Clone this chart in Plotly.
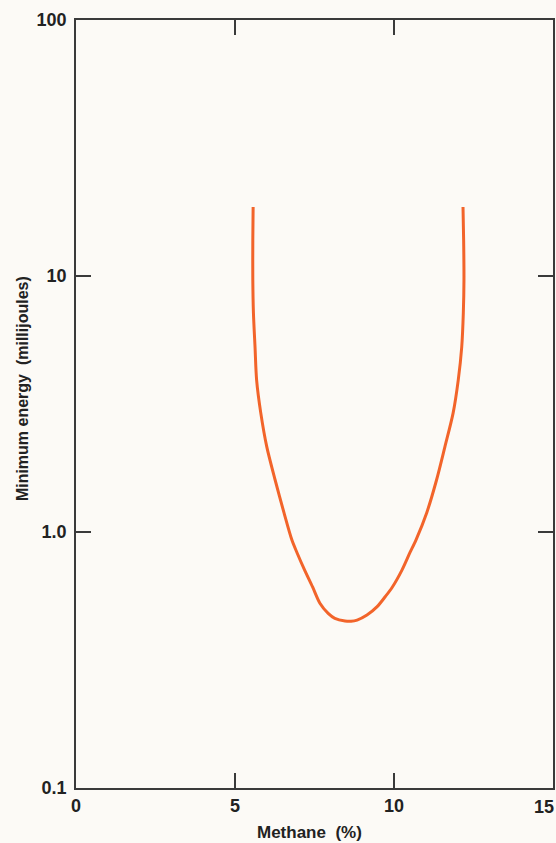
import plotly.graph_objects as go

# Curve: methane concentration (%) vs minimum ignition energy (mJ)
methane_pct = [5.57, 5.56, 5.56, 5.58, 5.63, 5.68, 5.81, 6.00, 6.26, 6.54, 6.79, 6.95,
               7.19, 7.44, 7.67, 7.93, 8.14, 8.46, 8.65, 8.84, 9.15, 9.47, 9.73, 9.95,
               10.25, 10.50, 10.69, 11.03, 11.34, 11.60, 11.86, 12.02, 12.13, 12.18,
               12.20, 12.19, 12.17]
min_energy_mj = [18.6, 13.8, 9.65, 7.17, 5.28, 3.92, 2.92, 2.15, 1.60, 1.19, 0.93, 0.83,
                 0.71, 0.61, 0.527, 0.481, 0.460, 0.449, 0.448, 0.453, 0.474, 0.511,
                 0.56, 0.61, 0.71, 0.83, 0.93, 1.19, 1.60, 2.15, 2.92, 3.92, 5.28,
                 7.17, 9.65, 13.8, 18.6]

x_tickvals = [0, 5, 10, 15]
x_ticktext = ["0", "5", "10", "15"]
y_tickvals = [0.1, 1, 10, 100]
y_ticktext = ["0.1", "1.0", "10", "100"]

x_title = "Methane  (%)"
y_title = "Minimum energy  (millijoules)"

BG = "#fcfaf6"
AX = "#3a3a3a"
FONT = "Liberation Sans, Arial, sans-serif"
TICKFONT = dict(family=FONT, size=18, color="#222222", weight="bold")

fig = go.Figure()
fig.add_trace(go.Scatter(
    x=methane_pct, y=min_energy_mj, mode="lines",
    line=dict(color="#f2642a", width=3, shape="spline", smoothing=0.8),
    showlegend=False, hoverinfo="skip",
))

axis_common = dict(
    showgrid=False, zeroline=False, automargin=False,
    showline=True, linecolor=AX, linewidth=1.6,
    mirror="allticks", ticks="inside", ticklen=15, tickwidth=1.6, tickcolor=AX,
    tickfont=TICKFONT,
)

# last x label sits at the right frame edge; draw it right-aligned so it stays on the page
x_labels_on_axis = x_ticktext[:-1] + [""]
fig.update_xaxes(range=[0, 15], tickvals=x_tickvals, ticktext=x_labels_on_axis,
                 ticklabelstandoff=1, **axis_common)
fig.update_yaxes(type="log", range=[-1, 2], tickvals=y_tickvals, ticktext=y_ticktext,
                 ticklabelstandoff=4, **axis_common)

fig.add_annotation(text=x_ticktext[-1], x=x_tickvals[-1], xref="x", yref="paper", y=0,
                   xanchor="right", yanchor="top", xshift=3, yshift=-7, showarrow=False,
                   font=TICKFONT)

fig.add_annotation(text=y_title, xref="paper", yref="paper", x=-0.113, y=0.5195,
                   xanchor="center", yanchor="middle", textangle=-90, showarrow=False,
                   font=dict(family=FONT, size=16, color="#222222", weight="bold"))
fig.add_annotation(text=x_title, xref="paper", yref="paper", x=0.49, y=-0.058,
                   xanchor="center", yanchor="middle", showarrow=False,
                   font=dict(family=FONT, size=17, color="#222222", weight="bold"))

fig.update_layout(
    width=556, height=843,
    margin=dict(l=76, r=3, t=20, b=55, autoexpand=False),
    paper_bgcolor=BG, plot_bgcolor=BG,
)

fig.write_html("out.html")
